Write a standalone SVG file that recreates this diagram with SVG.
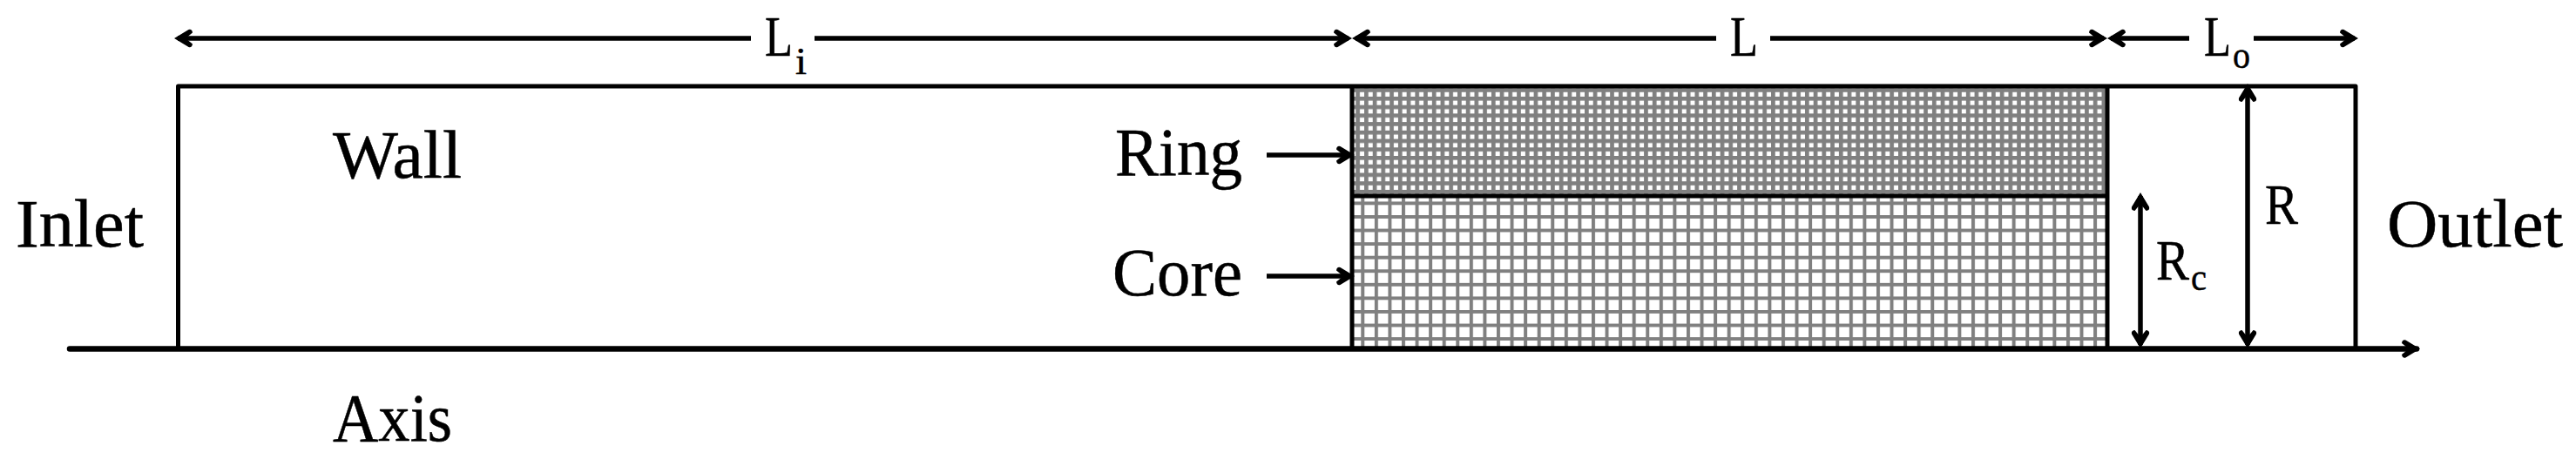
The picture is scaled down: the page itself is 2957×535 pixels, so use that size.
<svg xmlns="http://www.w3.org/2000/svg" width="2957" height="535" viewBox="0 0 2957 535">
<style>
text{font-family:"Liberation Serif","Times New Roman",serif;fill:#000;stroke:#000;stroke-width:0.5}
.lb{font-size:78px}
.dm{font-size:65px}
.sb{font-size:44px}
.ln{fill:none;stroke:#000;stroke-width:5}
.ar{fill:none;stroke:#000;stroke-width:5.500;marker-end:url(#head)}
.dbl{fill:none;stroke:#000;stroke-width:5.500;marker-start:url(#head);marker-end:url(#head)}
</style>
<defs>
<marker id="head" markerUnits="userSpaceOnUse" markerWidth="30" markerHeight="28" viewBox="-24 -14 30 28" refX="-4" refY="0" orient="auto-start-reverse">
<path d="M0 0L-16.500 -10Q-20.500 -11 -21 -6.500L-13 0L-21 6.500Q-20.500 11 -16.500 10Z" fill="#000"/>
</marker>
<pattern id="fine" patternUnits="userSpaceOnUse" x="1566" y="110.900" width="9.730" height="9.730">
<rect width="9.730" height="9.730" fill="#fff"/>
<path d="M0 0H9.730V4.700H0ZM0 0H4.700V9.730H0Z" fill="#808080"/>
</pattern>
<pattern id="coarse" patternUnits="userSpaceOnUse" x="1562.300" y="247" width="15.570" height="15.570">
<rect width="15.570" height="15.570" fill="#fff"/>
<path d="M0 0H15.570V4H0ZM0 0H4V15.570H0Z" fill="#808080"/>
</pattern>
</defs>
<rect width="2957" height="535" fill="#fff"/>
<g id="ring"><rect x="1552" y="99" width="867" height="126" fill="url(#fine)"/></g>
<g id="core"><rect x="1552" y="225" width="867" height="175" fill="url(#coarse)"/></g>
<g id="duct">
<path class="ln" d="M204.500 400V99H2704V400" stroke-linejoin="round"/>
<path class="ln" d="M1552 99V400M2419 99V400M1552 225H2419"/>
</g>
<g id="connectors">
<path class="ar" style="stroke-width:6.500" d="M80 400.500H2774" stroke-linecap="round"/>
<path class="ar" d="M862 44H204"/>
<path class="ar" d="M935 44H1548"/>
<path class="ar" d="M1970 44H1556"/>
<path class="ar" d="M2032 44H2415"/>
<path class="ar" d="M2513 44H2423"/>
<path class="ar" d="M2587 44H2703"/>
<path class="ar" d="M1454 178H1551"/>
<path class="ar" d="M1454 317H1551"/>
<path class="dbl" d="M2457 225V396"/>
<path class="dbl" d="M2580 100V396"/>
</g>
<g id="labels">
<text class="lb" x="18" y="283" textLength="147" lengthAdjust="spacingAndGlyphs">Inlet</text>
<text class="lb" x="382" y="204" textLength="148" lengthAdjust="spacingAndGlyphs">Wall</text>
<text class="lb" x="382" y="506" textLength="137" lengthAdjust="spacingAndGlyphs">Axis</text>
<text class="lb" x="1280" y="201" textLength="146" lengthAdjust="spacingAndGlyphs">Ring</text>
<text class="lb" x="1277" y="339" textLength="149" lengthAdjust="spacingAndGlyphs">Core</text>
<text class="lb" x="2740" y="283" textLength="202" lengthAdjust="spacingAndGlyphs">Outlet</text>
<text class="dm" x="878" y="64" textLength="32" lengthAdjust="spacingAndGlyphs">L</text>
<text class="sb" x="913" y="85" textLength="13" lengthAdjust="spacingAndGlyphs">i</text>
<text class="dm" x="1986" y="64" textLength="32" lengthAdjust="spacingAndGlyphs">L</text>
<text class="dm" x="2530" y="64" textLength="31" lengthAdjust="spacingAndGlyphs">L</text>
<text class="sb" x="2563" y="78" textLength="20" lengthAdjust="spacingAndGlyphs">o</text>
<text class="dm" x="2600" y="257" textLength="38" lengthAdjust="spacingAndGlyphs">R</text>
<text class="dm" x="2475" y="321" textLength="38" lengthAdjust="spacingAndGlyphs">R</text>
<text class="sb" x="2515" y="333" textLength="18" lengthAdjust="spacingAndGlyphs">c</text>
</g>
</svg>
